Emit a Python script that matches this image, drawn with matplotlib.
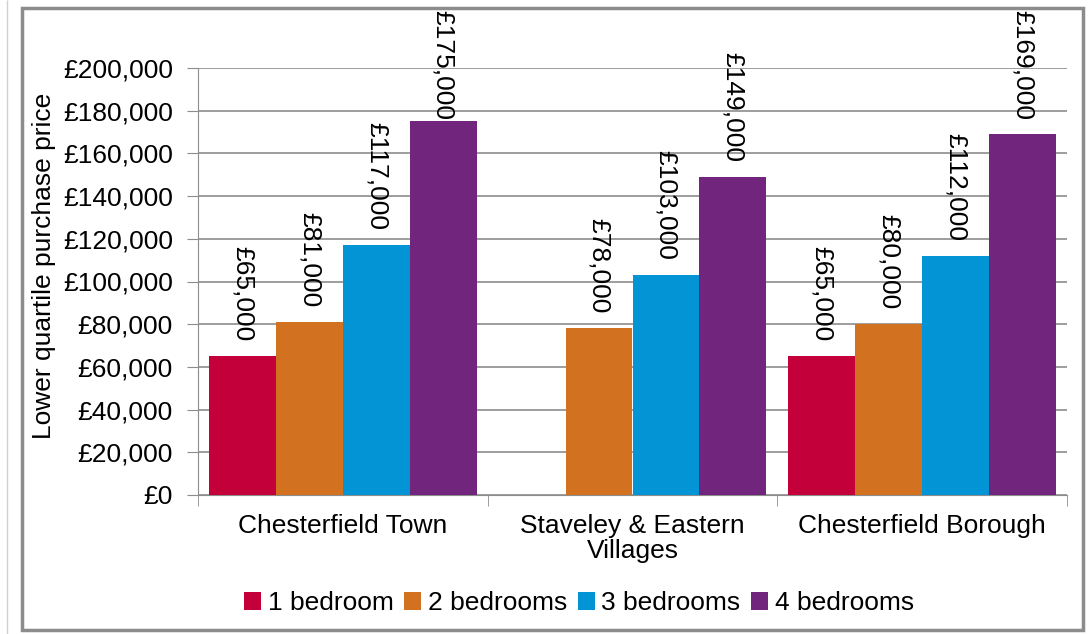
import numpy as np
import matplotlib
matplotlib.use("Agg")
import matplotlib.pyplot as plt
from matplotlib.patches import Rectangle

plt.rcParams["font.family"] = ["Liberation Sans", "DejaVu Sans"]

areas = ["Chesterfield Town", "Staveley & Eastern\nVillages", "Chesterfield Borough"]
series = ["1 bedroom", "2 bedrooms", "3 bedrooms", "4 bedrooms"]
colors = ["#C4003A", "#D2711F", "#0394D6", "#71257C"]
one_bed = [65000, None, 65000]
two_bed = [81000, 78000, 80000]
three_bed = [117000, 103000, 112000]
four_bed = [175000, 149000, 169000]
yticks = [0, 20000, 40000, 60000, 80000, 100000, 120000, 140000, 160000, 180000, 200000]

values = [one_bed, two_bed, three_bed, four_bed]
W, H = 1090, 634
FS = 19

fig = plt.figure(figsize=(W / 100, H / 100), dpi=100)
ax = fig.add_axes([198 / W, 1 - 495 / H, (1067 - 198) / W, (495 - 68) / H])

# outer chart border
fig.patches.append(Rectangle((22 / W, 1 - 630 / H), (1083 - 22) / W, (630 - 8) / H,
                             transform=fig.transFigure, fill=False,
                             edgecolor="#8c8c8c", linewidth=2.5))
fig.patches.append(Rectangle((7 / W, 0), 0, 1, transform=fig.transFigure, fill=False,
                             edgecolor="#d0d0d0", linewidth=1))

x = np.arange(len(areas))
width = 0.2308
labels = []
for i, (name, vals, c) in enumerate(zip(series, values, colors)):
    xs = x + (i - 1.5) * width
    h = [v if v is not None else 0 for v in vals]
    ax.bar(xs, h, width=width, color=c, label=name, zorder=3)
    for xi, v in zip(xs, vals):
        if v is None:
            continue
        t = ax.annotate("£{:,}".format(v), (xi, v), xytext=(0, 11),
                        textcoords="offset points", rotation=270, ha="center",
                        va="bottom", fontsize=FS, zorder=4, annotation_clip=False)
        labels.append(t)

ax.set_xlim(-0.5, 2.5)
ax.set_ylim(0, 200000)
ax.set_yticks(yticks)
ax.set_yticklabels(["£{:,}".format(t) for t in yticks], fontsize=FS)
ax.set_xticks([-0.5, 0.5, 1.5, 2.5], minor=True)
ax.set_xticks(x)
ax.set_xticklabels(areas, fontsize=FS, linespacing=1.05)
ax.tick_params(axis="x", which="major", length=0, pad=14)
ax.tick_params(axis="x", which="minor", length=8, color="#8c8c8c", direction="out")
ax.tick_params(axis="y", length=8, color="#8c8c8c", direction="out", pad=10)
ax.grid(axis="y", color="#8c8c8c", linewidth=1.2, zorder=0)
ax.spines["top"].set_visible(False)
ax.spines["right"].set_visible(False)
ax.spines["left"].set_color("#8c8c8c")
ax.spines["bottom"].set_color("#8c8c8c")
ax.set_ylabel("Lower quartile purchase price", fontsize=FS)
ax.yaxis.set_label_coords((56 - 198) / (1067 - 198), (495 - 266) / (495 - 68))

fig.legend(loc="center", bbox_to_anchor=(579 / W, 1 - 603 / H), ncol=4,
           frameon=False, fontsize=FS, handlelength=0.65, handleheight=0.65,
           handletextpad=0.25, columnspacing=0.4)

# keep data labels inside the chart area (pushed down like the original)
fig.canvas.draw()
r = fig.canvas.get_renderer()
top_limit = H - 10
for t in labels:
    bb = t.get_window_extent(r)
    if bb.y1 > top_limit:
        off = t.xyann
        t.xyann = (off[0], off[1] - (bb.y1 - top_limit) * 72 / 100)

fig.savefig("out.png", dpi=100)
